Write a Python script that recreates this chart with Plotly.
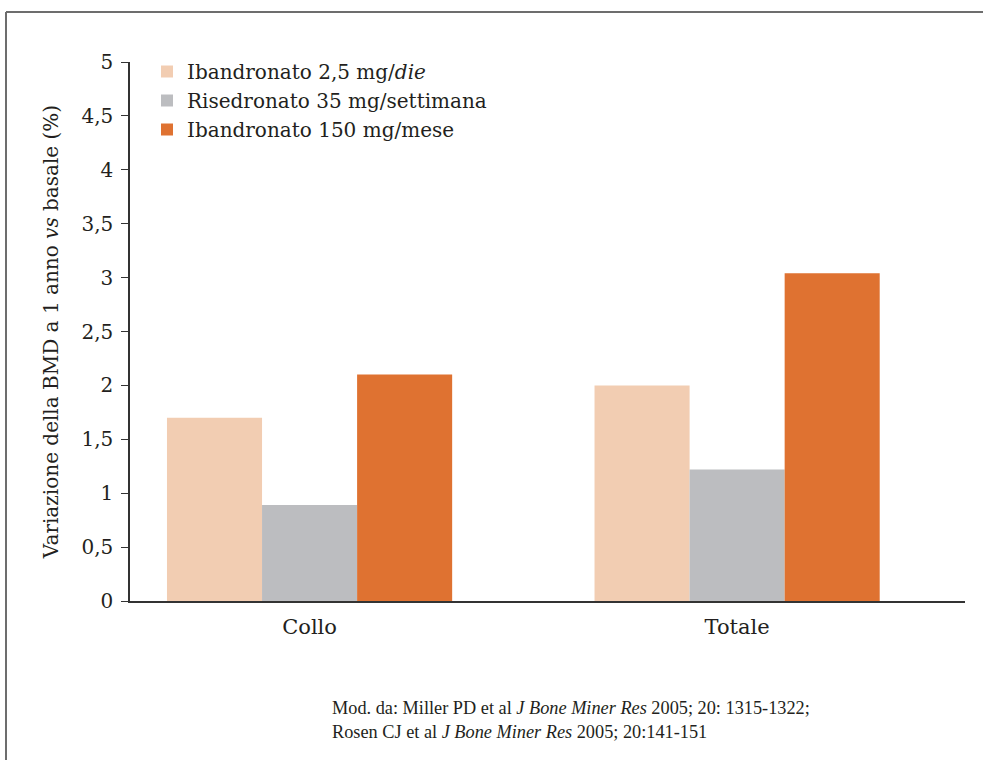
import plotly.graph_objects as go

categories = ["Collo", "Totale"]
series_names = [
    "Ibandronato 2,5 mg/<i>die</i>",
    "Risedronato 35 mg/settimana",
    "Ibandronato 150 mg/mese",
]
series_values = [
    [1.70, 2.00],
    [0.89, 1.22],
    [2.10, 3.04],
]
series_colors = ["#f2cdb2", "#bcbdc0", "#df7231"]
tick_vals = [0, 0.5, 1, 1.5, 2, 2.5, 3, 3.5, 4, 4.5, 5]
tick_text = ["0", "0,5", "1", "1,5", "2", "2,5", "3", "3,5", "4", "4,5", "5"]

FONT = "DejaVu Serif"
FOOT_FONT = "Liberation Serif"
TXT = "#231f20"

fig = go.Figure()
xpos = list(range(len(categories)))
for name, vals, col in zip(series_names, series_values, series_colors):
    fig.add_trace(go.Bar(x=xpos, y=vals, name=name, marker=dict(color=col, line=dict(width=0))))

W, H = 983, 760
L, R, T, B = 130, 965, 62, 601
fig.update_layout(
    width=W, height=H,
    margin=dict(l=L, r=W - R, t=T, b=H - B, autoexpand=False),
    paper_bgcolor="white", plot_bgcolor="white",
    barmode="group", bargap=0.333, bargroupgap=0,
    font=dict(family=FONT, size=20, color=TXT),
    showlegend=True,
    legend=dict(
        x=(147 - L) / (R - L), y=(B - 52) / (B - T), xanchor="left", yanchor="top",
        bgcolor="rgba(0,0,0,0)", font=dict(family=FONT, size=20, color=TXT),
        tracegroupgap=0, itemwidth=30, traceorder="normal",
    ),
    xaxis=dict(
        range=[-0.42, 1.533], tickmode="array", tickvals=xpos, ticktext=categories,
        showline=True, linecolor="#333333", linewidth=1.5, ticks="", showgrid=False,
        zeroline=False, tickfont=dict(family=FONT, size=21, color=TXT),
        ticklabelstandoff=6,
    ),
    yaxis=dict(
        range=[0, 5], tickmode="array", tickvals=tick_vals, ticktext=tick_text,
        showline=True, linecolor="#333333", linewidth=1.5, ticks="outside", ticklen=7,
        tickcolor="#333333", tickwidth=1.2, showgrid=False, zeroline=False,
        tickfont=dict(family=FONT, size=20, color=TXT), ticklabelstandoff=4,
        title=dict(text="Variazione della BMD a 1 anno <i>vs</i> basale (%)",
                   font=dict(family=FONT, size=20, color=TXT), standoff=17),
    ),
)

def px_x(p):
    return (p - L) / (R - L)

def px_y(p):
    return (B - p) / (B - T)

# frame lines (top and left)
fig.add_shape(type="line", xref="paper", yref="paper", x0=px_x(6), x1=px_x(990),
              y0=px_y(12), y1=px_y(12), line=dict(color="#6d6d6d", width=2))
fig.add_shape(type="line", xref="paper", yref="paper", x0=px_x(6), x1=px_x(6),
              y0=px_y(12), y1=px_y(770), line=dict(color="#6d6d6d", width=2))

fig.add_annotation(
    xref="paper", yref="paper", x=px_x(330), y=px_y(696), xanchor="left", yanchor="top",
    align="left", showarrow=False,
    text="Mod. da: Miller PD et al <i>J Bone Miner Res</i> 2005; 20: 1315-1322;<br>"
         "Rosen CJ et al <i>J Bone Miner Res</i> 2005; 20:141-151",
    font=dict(family=FOOT_FONT, size=18.3, color=TXT),
)

fig.write_html("out.html", config={"displayModeBar": False},
               post_script="document.body.style.margin='0';")
